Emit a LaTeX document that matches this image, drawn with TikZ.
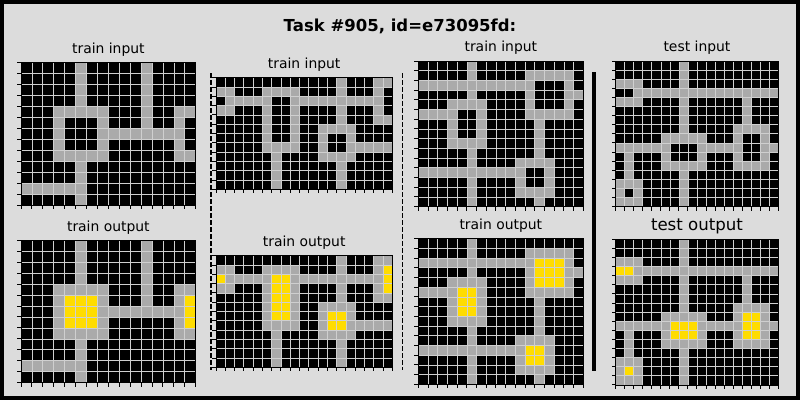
\documentclass[tikz,border=0pt]{standalone}
\usepackage{fontspec}
\setmainfont{DejaVu Sans}
\usetikzlibrary{calc}

\definecolor{arcgray}{HTML}{AAAAAA}
\definecolor{arcyellow}{HTML}{FFDC00}
\definecolor{figbg}{HTML}{DCDCDC}
\definecolor{gridgray}{HTML}{CFCFCF}

\tikzset{
  gridline/.style={gridgray, line width=0.7pt},
  tickmark/.style={black, line width=1pt},
  paneltitle/.style={anchor=base, font=\fontsize{13.9}{16}\selectfont},
  bigtitle/.style={anchor=base, font=\fontsize{16.6}{19}\selectfont},
}

% cells: colour, list of col0/row0/col1/row1 (inclusive)
\newcommand{\arccells}[2]{%
  \foreach \ca/\ra/\cb/\rb in {#2}
    \fill[#1] (\ca,\ra) rectangle (\cb+1,\rb+1);
}
% grid lines, frame and ticks: cols, rows
\newcommand{\arcframe}[2]{%
  \foreach \c in {0,...,#1} \draw[gridline] (\c,0) -- (\c,#2);
  \foreach \r in {0,...,#2} \draw[gridline] (0,\r) -- (#1,\r);
  \draw[black, line width=0.8pt] (0,0) rectangle (#1,#2);
  \foreach \r in {0,...,#2} \draw[tickmark] (0,\r) -- ++(-4pt,0);
  \foreach \c in {0,...,#1} \draw[tickmark] (\c,#2) -- ++(0,-4pt);
}

\begin{document}
\begin{tikzpicture}[x=1pt, y=-1pt]
  \useasboundingbox (0,0) rectangle (800,400);

  % Figure frame
  \fill[black] (0,0) rectangle (800,400);
  \fill[figbg] (4,4) rectangle (796,396);

  \node[anchor=base, font=\fontsize{16.5}{19}\selectfont\bfseries] (title) at (400,31) {Task \#905, id=e73095fd:};

  % Pair 1 (input)
  \begin{scope}[shift={(21,62.7)}, x=10.92pt, y=-10.95pt]
    \fill[black] (0,0) rectangle (16,13);
    \arccells{arcgray}{5/0/5/3, 11/0/11/5, 3/4/7/4, 3/8/7/8, 3/5/3/7, 7/5/7/7,
      7/6/14/6, 14/4/15/4, 14/5/14/7, 14/8/15/8, 5/9/5/12, 0/11/5/11}
    \arcframe{16}{13}
    \node[paneltitle] (in1) at ([yshift=9.3pt]8,0) {train input};
  \end{scope}

  % Pair 1 (output)
  \begin{scope}[shift={(21,240.3)}, x=10.92pt, y=-10.95pt]
    \fill[black] (0,0) rectangle (16,13);
    \arccells{arcgray}{5/0/5/3, 11/0/11/5, 3/4/7/4, 3/8/7/8, 3/5/3/7, 7/5/7/7,
      7/6/14/6, 14/4/15/4, 14/5/14/7, 14/8/15/8, 5/9/5/12, 0/11/5/11}
    \arccells{arcyellow}{4/5/6/7, 15/5/15/7}
    \arcframe{16}{13}
    \node[paneltitle] (out1) at ([yshift=9.3pt]8,0) {train output};
  \end{scope}

  % Pair 2 (input)
  \begin{scope}[shift={(216,77.7)}, x=9.28pt, y=-9.3pt]
    \fill[black] (0,0) rectangle (19,12);
    \arccells{arcgray}{13/0/13/4, 17/0/18/0, 17/1/17/3, 17/4/18/4, 0/1/1/1, 0/3/1/3,
      1/2/5/2, 8/2/17/2, 5/1/8/1, 5/3/5/6, 8/3/8/6, 5/7/8/7, 6/8/6/11,
      11/5/14/5, 11/6/11/7, 14/6/14/6, 11/8/14/8, 14/7/18/7, 13/9/13/11}
    \arcframe{19}{12}
    \node[paneltitle] (in2) at ([yshift=9.3pt]9.5,0) {train input};
  \end{scope}

  % Pair 2 (output)
  \begin{scope}[shift={(216,255.7)}, x=9.28pt, y=-9.3pt]
    \fill[black] (0,0) rectangle (19,12);
    \arccells{arcgray}{13/0/13/4, 17/0/18/0, 17/1/17/3, 17/4/18/4, 0/1/1/1, 0/3/1/3,
      1/2/5/2, 8/2/17/2, 5/1/8/1, 5/3/5/6, 8/3/8/6, 5/7/8/7, 6/8/6/11,
      11/5/14/5, 11/6/11/7, 14/6/14/6, 11/8/14/8, 14/7/18/7, 13/9/13/11}
    \arccells{arcyellow}{0/2/0/2, 6/2/7/6, 18/1/18/3, 12/6/13/7}
    \arcframe{19}{12}
    \node[paneltitle] (out2) at ([yshift=9.3pt]9.5,0) {train output};
  \end{scope}

  % Pair 3 (input)
  \begin{scope}[shift={(418.3,61)}, x=9.71pt, y=-9.71pt]
    \fill[black] (0,0) rectangle (17,15);
    \arccells{arcgray}{5/0/5/3, 11/1/15/1, 0/2/11/2, 11/3/11/4, 15/2/15/4, 16/3/16/3,
      11/5/15/5, 3/4/6/4, 0/5/3/5, 6/5/6/7, 3/6/3/7, 3/8/6/8, 12/6/12/9,
      5/9/5/14, 10/10/13/10, 0/11/10/11, 13/11/13/12, 10/12/10/12,
      10/13/13/13, 12/14/12/14}
    \arcframe{17}{15}
    \node[paneltitle] (in3) at ([yshift=9.3pt]8.5,0) {train input};
  \end{scope}

  % Pair 3 (output)
  \begin{scope}[shift={(418.3,238.7)}, x=9.71pt, y=-9.71pt]
    \fill[black] (0,0) rectangle (17,15);
    \arccells{arcgray}{5/0/5/3, 11/1/15/1, 0/2/11/2, 11/3/11/4, 15/2/15/4, 16/3/16/3,
      11/5/15/5, 3/4/6/4, 0/5/3/5, 6/5/6/7, 3/6/3/7, 3/8/6/8, 12/6/12/9,
      5/9/5/14, 10/10/13/10, 0/11/10/11, 13/11/13/12, 10/12/10/12,
      10/13/13/13, 12/14/12/14}
    \arccells{arcyellow}{12/2/14/4, 4/5/5/7, 11/11/12/12}
    \arcframe{17}{15}
    \node[paneltitle] (out3) at ([yshift=9.3pt]8.5,0) {train output};
  \end{scope}

  % Test (input)
  \begin{scope}[shift={(615.7,61)}, x=9.03pt, y=-9.1pt]
    \fill[black] (0,0) rectangle (18,16);
    \arccells{arcgray}{7/0/7/7, 0/2/2/2, 2/3/17/3, 0/4/2/4, 14/4/14/6, 13/7/16/7,
      13/8/13/10, 16/8/16/10, 17/9/17/9, 13/11/16/11, 5/8/9/8, 0/9/5/9,
      9/9/13/9, 5/10/5/10, 9/10/9/10, 5/11/9/11, 1/10/1/12, 7/12/7/15,
      0/13/2/13, 0/14/0/14, 2/14/2/14, 0/15/2/15}
    \arcframe{18}{16}
    \node[paneltitle] (in4) at ([yshift=9.3pt]9,0) {test input};
  \end{scope}

  % Test (output)
  \begin{scope}[shift={(615.7,239.3)}, x=9.03pt, y=-9.1pt]
    \fill[black] (0,0) rectangle (18,16);
    \arccells{arcgray}{7/0/7/7, 0/2/2/2, 2/3/17/3, 0/4/2/4, 14/4/14/6, 13/7/16/7,
      13/8/13/10, 16/8/16/10, 17/9/17/9, 13/11/16/11, 5/8/9/8, 0/9/5/9,
      9/9/13/9, 5/10/5/10, 9/10/9/10, 5/11/9/11, 1/10/1/12, 7/12/7/15,
      0/13/2/13, 0/14/0/14, 2/14/2/14, 0/15/2/15}
    \arccells{arcyellow}{0/3/1/3, 6/9/8/10, 14/8/15/10, 1/14/1/14}
    \arcframe{18}{16}
    \node[bigtitle] (out4) at ([yshift=9.3pt]9,0) {test output};
  \end{scope}

  % Separators
  \coordinate (sepAtop) at (211,73);
  \coordinate (sepAbot) at (211,370);
  \coordinate (sepBtop) at (402.7,73);
  \coordinate (sepBbot) at (402.7,370);
  \coordinate (sepCtop) at (594,72);
  \coordinate (sepCbot) at (594,371);
  \draw[black, line width=1.3pt, dash pattern=on 4.5pt off 2.5pt] (sepAtop) -- (sepAbot);
  \draw[black, line width=1.3pt, dash pattern=on 4.5pt off 2.5pt] (sepBtop) -- (sepBbot);
  \draw[black, line width=4pt] (sepCtop) -- (sepCbot);

\end{tikzpicture}
\end{document}
